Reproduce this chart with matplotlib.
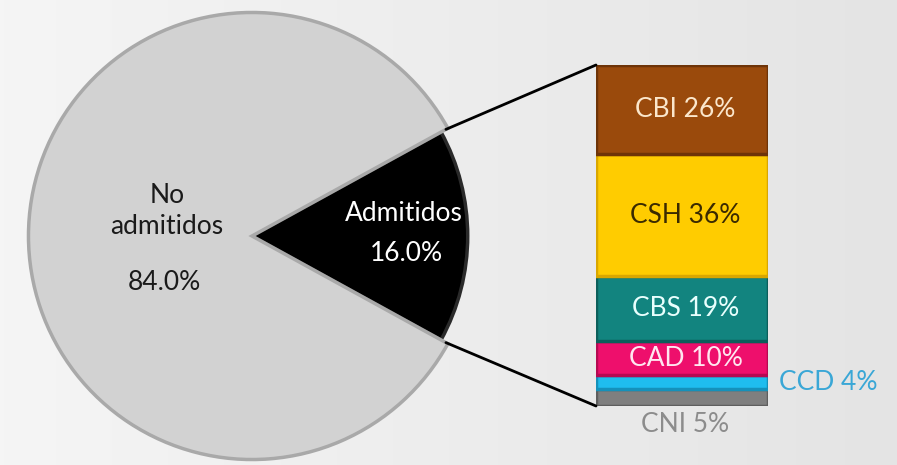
import numpy as np
import matplotlib.pyplot as plt
from matplotlib.patches import ConnectionPatch
from matplotlib.colors import LinearSegmentedColormap

plt.rcParams['font.family'] = ['Lato', 'DejaVu Sans']

# pie data
pie_labels = ['Admitidos', 'No\nadmitidos']
pie_values = [16.0, 84.0]
pie_colors = ['#000000', '#D2D2D2']

# bar-of-pie data (bottom to top)
bar_labels = ['CNI', 'CCD', 'CAD', 'CBS', 'CSH', 'CBI']
bar_values = [5, 4, 10, 19, 36, 26]
bar_colors = ['#7F7F7F', '#1FBDEE', '#EE0F6C', '#12847F', '#FFCC00', '#9A4A0C']
bar_edges = ['#5E5E5E', '#1591BA', '#B50A52', '#0C5F5B', '#D9A700', '#6E3408']
bar_text = ['#8C8C8C', '#3AA7D6', '#FFE6F0', '#E8FFFD', '#3A2A00', '#FBE7CC']

W, H = 897, 465
fig = plt.figure(figsize=(W / 100, H / 100), dpi=100)

# background gradient
bg = fig.add_axes([0, 0, 1, 1])
grad = np.linspace(0, 1, 256).reshape(1, -1)
bg.imshow(grad, aspect='auto', extent=[0, 1, 0, 1],
          cmap=LinearSegmentedColormap.from_list('bg', ['#F5F5F5', '#EDEDED', '#E4E4E4']))
bg.axis('off')

# pie axes
cx, cy, r = 252, 236, 228
ax1 = fig.add_axes([(cx - r) / W, (H - cy - r) / H, 2 * r / W, 2 * r / H])
half = pie_values[0] / 100 * 360 / 2
wedges, _ = ax1.pie(pie_values, colors=pie_colors, startangle=-half, radius=1,
                    wedgeprops=dict(edgecolor='#A9A9A9', linewidth=2.5))
wedges[0].set_edgecolor('#2A2A2A')
wedges[0].set_radius(0.965)
ax1.set_xlim(-1.02, 1.02)
ax1.set_ylim(-1.02, 1.02)
ax1.set_aspect('equal')
ax1.axis('off')

fs = 19
ax1.text(-0.38, 0.11, 'No\nadmitidos', ha='center', va='center', fontsize=fs,
         color='#1A1A1A', linespacing=1.3)
ax1.text(-0.39, -0.21, '84.0%', ha='center', va='center', fontsize=fs, color='#1A1A1A')
ax1.text(0.68, 0.10, 'Admitidos', ha='center', va='center', fontsize=fs, color='white')
ax1.text(0.69, -0.08, '16.0%', ha='center', va='center', fontsize=fs, color='white')

# stacked bar axes
bx0, bx1, by0, by1 = 596, 768, 65, 406
ax2 = fig.add_axes([bx0 / W, (H - by1) / H, (bx1 - bx0) / W, (by1 - by0) / H])
bottom = 0
for lab, val, col, ec, tc in zip(bar_labels, bar_values, bar_colors, bar_edges, bar_text):
    ax2.bar(0, val, bottom=bottom, width=1, color=col, edgecolor=ec, linewidth=2.5)
    txt = f'{lab} {val}%'
    mid = bottom + val / 2
    if lab == 'CCD':
        ax2.text(0.85, mid, txt, ha='center', va='center', fontsize=fs, color=tc)
    elif lab == 'CNI':
        ax2.text(0.02, -5.5, txt, ha='center', va='center', fontsize=fs, color=tc)
    else:
        ax2.text(0.02, mid, txt, ha='center', va='center', fontsize=fs, color=tc)
    bottom += val
ax2.set_xlim(-0.5, 0.5)
ax2.set_ylim(0, sum(bar_values))
ax2.axis('off')

# connector lines
theta = np.deg2rad(half)
for sgn, yb in [(1, sum(bar_values)), (-1, 0)]:
    con = ConnectionPatch(xyA=(-0.5, yb), coordsA=ax2.transData,
                          xyB=(np.cos(theta) * 0.99, sgn * np.sin(theta) * 0.99),
                          coordsB=ax1.transData, color='black', linewidth=2)
    fig.add_artist(con)

fig.savefig('out.png', dpi=100)
